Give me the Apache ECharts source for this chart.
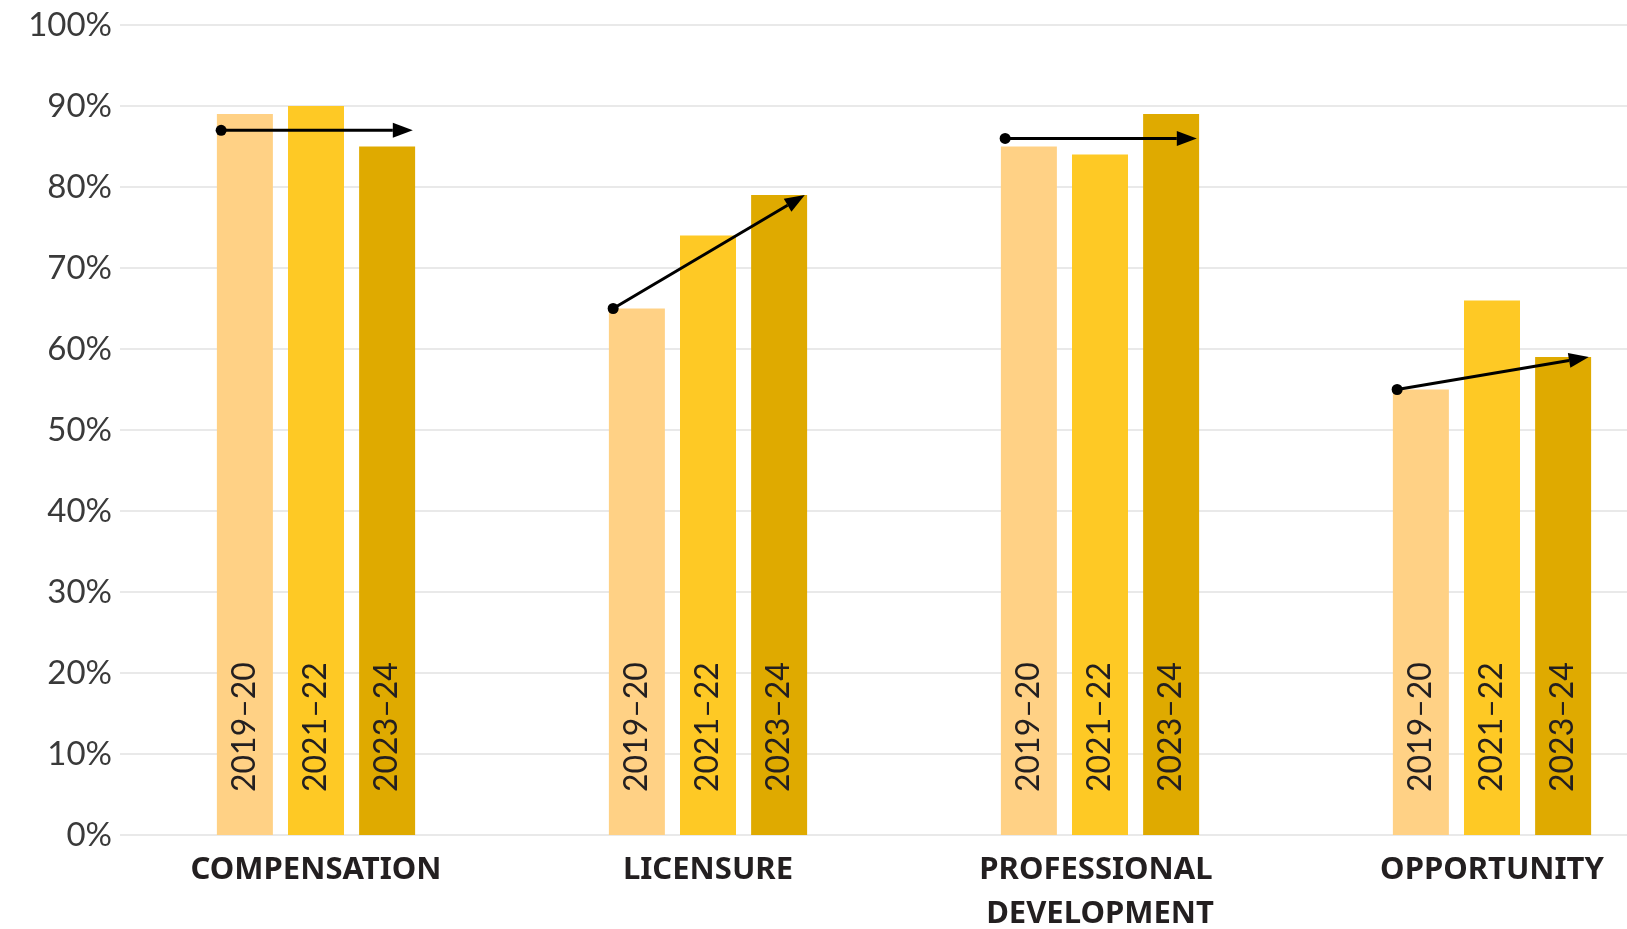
<!DOCTYPE html>
<html>
<head>
<meta charset="utf-8">
<title>Survey results by year</title>
<script src="https://cdn.jsdelivr.net/npm/echarts@6/dist/echarts.min.js"></script>
<style>
  html, body { margin: 0; padding: 0; background: #fff; }
  #chart { width: 1627px; height: 929px; }
</style>
</head>
<body>
<div id="chart"></div>
<script>
  // categories & series
  const categories = ['COMPENSATION', 'LICENSURE', 'PROFESSIONAL DEVELOPMENT', 'OPPORTUNITY'];
  const years = ['2019–20', '2021–22', '2023–24'];
  const values2019 = [89, 65, 85, 55];
  const values2021 = [90, 74, 84, 66];
  const values2023 = [85, 79, 89, 59];
  // trend arrows (start / end value)
  const trendStart = [87, 65, 86, 55];
  const trendEnd = [87, 79, 86, 59];
  const yTicks = [0, 10, 20, 30, 40, 50, 60, 70, 80, 90, 100];

  const colors = ['#FFD185', '#FEC925', '#DFAA00'];
  const textColor = '#231f20';

  let myChart = echarts.init(document.getElementById('chart'));

  function barSeries(name, data, color) {
    return {
      name: name,
      type: 'bar',
      barWidth: 56,
      barGap: '27%',
      itemStyle: { color: color },
      label: {
        show: true,
        position: 'insideBottom',
        distance: 43,
        rotate: 90,
        align: 'left',
        verticalAlign: 'middle',
        formatter: '{a}',
        fontFamily: 'Lato',
        fontSize: 32,
        color: textColor
      },
      data: data
    };
  }

  // arrow from first to last bar of each group
  function renderArrow(params, api) {
    let c = api.value(0);
    let p0 = api.coord([c, api.value(1)]);
    let p1 = api.coord([c, api.value(2)]);
    let bw = api.size([1, 0])[0];
    let x0 = p0[0] - bw * 0.242, y0 = p0[1];
    let x1 = p1[0] + bw * 0.247, y1 = p1[1];
    let ang = Math.atan2(y1 - y0, x1 - x0);
    let headLen = 20, headW = 7.5;
    let bx = x1 - headLen * Math.cos(ang), by = y1 - headLen * Math.sin(ang);
    let nx = -Math.sin(ang) * headW, ny = Math.cos(ang) * headW;
    return {
      type: 'group',
      children: [
        { type: 'line', shape: { x1: x0, y1: y0, x2: bx, y2: by }, style: { stroke: '#000', lineWidth: 3 } },
        { type: 'polygon', shape: { points: [[x1, y1], [bx + nx, by + ny], [bx - nx, by - ny]] }, style: { fill: '#000' } },
        { type: 'circle', shape: { cx: x0, cy: y0, r: 5.5 }, style: { fill: '#000' } }
      ]
    };
  }

  let option = {
    backgroundColor: '#fff',
    animation: false,
    grid: {
      left: 120,
      width: 1568,
      top: 25,
      height: 810,
      outerBoundsMode: 'none',
      containLabel: false
    },
    xAxis: {
      type: 'category',
      data: categories,
      axisLine: { show: false },
      axisTick: { show: false },
      axisLabel: {
        interval: 0,
        margin: 13,
        width: 300,
        overflow: 'break',
        lineHeight: 44,
        fontFamily: 'Noto Sans',
        fontWeight: 'bold',
        fontSize: 31,
        color: textColor
      }
    },
    yAxis: {
      type: 'value',
      min: yTicks[0],
      max: yTicks[yTicks.length - 1],
      interval: 10,
      axisLine: { show: false },
      axisTick: { show: false },
      splitLine: { lineStyle: { color: '#e2e2e2', width: 1.5 } },
      axisLabel: {
        margin: 8,
        formatter: '{value}%',
        fontFamily: 'Lato',
        fontSize: 33,
        color: '#3a3a3a',
        padding: [0, 0, 10, 0]
      }
    },
    series: [
      barSeries(years[0], values2019, colors[0]),
      barSeries(years[1], values2021, colors[1]),
      barSeries(years[2], values2023, colors[2]),
      {
        type: 'custom',
        z: 10,
        renderItem: renderArrow,
        encode: { x: 0, y: [1, 2] },
        data: categories.map((c, i) => [i, trendStart[i], trendEnd[i]])
      }
    ]
  };

  myChart.setOption(option);
</script>
</body>
</html>
